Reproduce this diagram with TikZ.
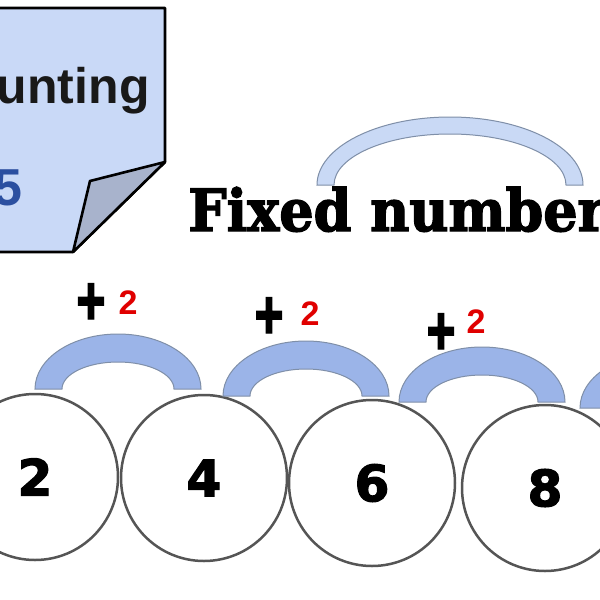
\documentclass[tikz,border=0pt]{standalone}
\usepackage{fontspec}
\setmainfont{Liberation Sans}
\newfontfamily\slabfont[FakeBold=2.5]{DejaVu Serif Bold}
\newfontfamily\digfont[FakeBold=2.5]{DejaVu Sans Bold}
\newfontfamily\plusfont[FakeBold=2]{Liberation Sans Bold}
\definecolor{notefill}{HTML}{C9D9F7}
\definecolor{flapfill}{HTML}{A8B3CC}
\definecolor{bigarch}{HTML}{C9D9F5}
\definecolor{smallarch}{HTML}{9BB4E8}
\definecolor{archline}{HTML}{7F8FA8}
\definecolor{ringline}{HTML}{555555}
\definecolor{fiveblue}{HTML}{2B4FA0}
\definecolor{plusred}{HTML}{E00000}
\tikzset{
  notebox/.style={fill=notefill,draw=black,line width=1.3pt,line join=round},
  flapbox/.style={fill=flapfill,draw=black,line width=1.3pt,line join=round},
  archband/.style={fill=smallarch,draw=archline,line width=0.5pt},
  bigband/.style={fill=bigarch,draw=archline,line width=0.5pt},
  ring/.style={circle,draw=ringline,fill=white,line width=1.25pt,minimum size=83pt,inner sep=0pt,
    font=\digfont\fontsize{25pt}{25pt}\selectfont},
  plussign/.style={inner sep=0pt,font=\plusfont\fontsize{25pt}{25pt}\selectfont,yscale=1.4},
  steplabel/.style={inner sep=0pt,text=plusred,font=\bfseries\fontsize{17pt}{17pt}\selectfont}
}
\begin{document}
\begin{tikzpicture}[x=0.5pt,y=-0.5pt]
\useasboundingbox (0,0) rectangle (600,600);
\clip (0,0) rectangle (600,600);
\fill[white] (0,0) rectangle (600,600);
% note
\draw[notebox] (-20,8) -- (165,8) -- (165,162) -- (73,252) -- (-20,252) -- cycle;
\draw[flapbox] (165,162) -- (90,181) -- (73,252) -- cycle;
\node[anchor=base east,inner sep=0pt,font=\bfseries\fontsize{25pt}{25pt}\selectfont,text=black!90] (title) at (150,103) {Counting};
\node[anchor=base east,inner sep=0pt,font=\bfseries\fontsize{26pt}{26pt}\selectfont,text=fiveblue] (five) at (23,205) {5};
% big arch
\draw[bigband] (317,185) arc[start angle=180,end angle=360,x radius=133,y radius=68]
  -- (566,185) arc[start angle=360,end angle=180,x radius=116,y radius=51] -- cycle;
\node[anchor=base west,inner sep=0pt,xscale=0.93,font=\slabfont\fontsize{29pt}{29pt}\selectfont] (fixed) at (188,231) {Fixed number};
% circles
\node[ring] (c1) at (35,477) {2};
\node[ring] (c2) at (204,478) {4};
\node[ring] (c3) at (372,483) {6};
\node[ring] (c4) at (545,488) {8};
% small arches
\foreach \cx/\fy in {118/389,306/396,482/402,663/408}{
  \draw[archband] (\cx-83,\fy) arc[start angle=180,end angle=360,x radius=83,y radius=55]
    -- (\cx+56,\fy) arc[start angle=360,end angle=180,x radius=56,y radius=27] -- cycle;
}
% labels
\node[plussign] (p1) at (91,304) {+};
\node[steplabel] (n1) at (128,302.5) {2};
\node[plussign] (p2) at (269,318) {+};
\node[steplabel] (n2) at (310,314) {2};
\node[plussign] (p3) at (441,334) {+};
\node[steplabel] (n3) at (476,322) {2};
\end{tikzpicture}
\end{document}
